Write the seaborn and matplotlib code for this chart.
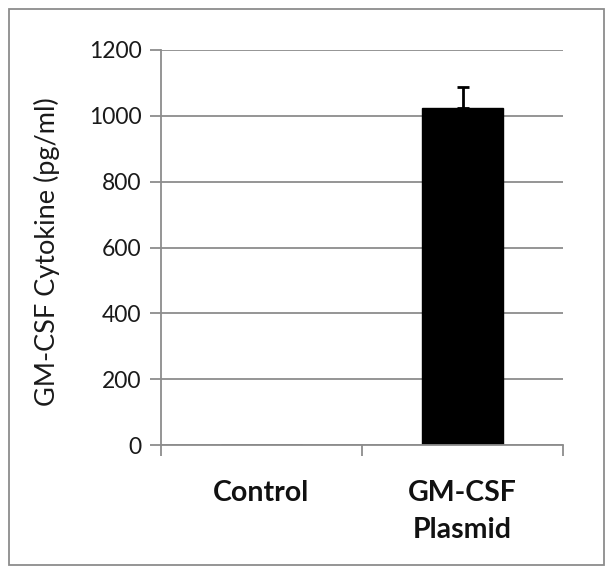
import matplotlib
matplotlib.use("Agg")
import matplotlib.pyplot as plt
import seaborn as sns
import pandas as pd
from matplotlib.patches import Rectangle

categories = ["Control", "GM-CSF\nPlasmid"]
values = [0, 1025]
errors = [0, 63]
yticks = [0, 200, 400, 600, 800, 1000, 1200]

sns.set_theme(style="white")
plt.rcParams['font.family'] = ['Lato', 'DejaVu Sans']

fig = plt.figure(figsize=(6.13, 5.75), dpi=100)
ax = fig.add_axes([161/613, 1-445/575, (563-161)/613, (445-50)/575])

df = pd.DataFrame({"cat": categories, "val": values})
sns.barplot(data=df, x="cat", y="val", color="black", width=0.4,
            errorbar=None, ax=ax, saturation=1, edgecolor="black")
ax.errorbar([1], [values[1]], yerr=[[0], [errors[1]]], fmt="none",
            ecolor="black", elinewidth=2, capsize=4.5, capthick=2)

ax.set_ylim(0, 1200)
ax.set_xlim(-0.5, 1.5)
ax.set_yticks(yticks)
ax.set_yticklabels([str(v) for v in yticks], fontsize=16.5, color="#1a1a1a")
ax.yaxis.grid(True, color="#8c8c8c", linewidth=1.3)
ax.set_axisbelow(True)
for s in ["top", "right"]:
    ax.spines[s].set_visible(False)
for s in ["left", "bottom"]:
    ax.spines[s].set_color("#8c8c8c")
    ax.spines[s].set_linewidth(1.3)
ax.tick_params(axis="y", which="major", left=True, length=8, width=1.3,
               color="#8c8c8c", pad=6)
ax.set_xticks([0, 1])
ax.set_xticklabels(categories, fontsize=20.5, fontweight="bold", color="#111111")
ax.tick_params(axis="x", which="major", bottom=False, pad=19)
ax.set_xticks([-0.5, 0.5, 1.5], minor=True)
ax.tick_params(axis="x", which="minor", bottom=True, length=8, width=1.3,
               color="#8c8c8c")
ax.set_xlabel("")
ax.set_ylabel("GM-CSF Cytokine (pg/ml)", fontsize=19.5, color="#1a1a1a")
ax.yaxis.set_label_coords((60-161)/402, 0.49)
for lbl in ax.get_xticklabels():
    lbl.set_linespacing(1.55)
    lbl.set_verticalalignment("top")

fig.patches.append(Rectangle((9/613, 1-565/575), (604-9)/613, (565-9)/575,
                             transform=fig.transFigure, fill=False,
                             edgecolor="#8c8c8c", linewidth=1.3))

fig.savefig("out.png", dpi=100)
